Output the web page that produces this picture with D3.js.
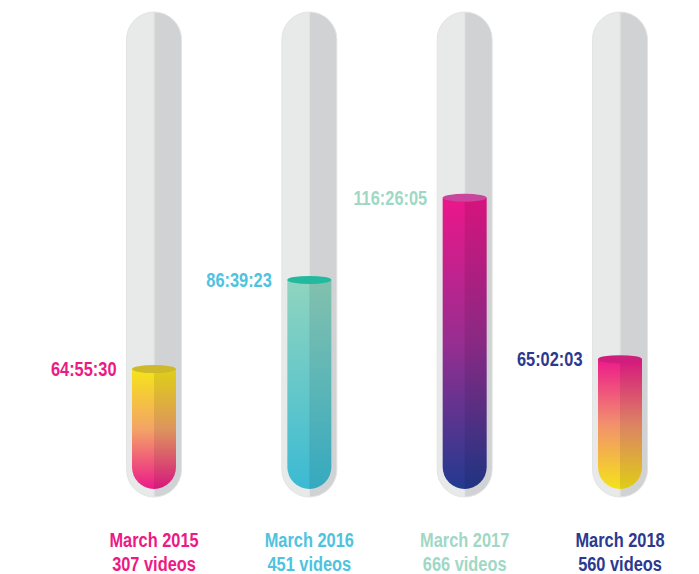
<!DOCTYPE html>
<html>
<head>
<meta charset="utf-8">
<script src="https://cdn.jsdelivr.net/npm/d3@7"></script>
<style>
  body { margin: 0; background: #fff; }
  text { font-family: "Liberation Sans", Arial, sans-serif; font-weight: bold; }
</style>
</head>
<body>
<div id="chart"></div>
<script>
// data
var months = ["March 2015", "March 2016", "March 2017", "March 2018"];
var durations = ["64:55:30", "86:39:23", "116:26:05", "65:02:03"];
var videos = [307, 451, 666, 560];
// how full each tube is drawn (percent of the tube)
var levels = [25.4, 44.3, 61.7, 27.5];

var labelColors = ["#ec1a84", "#4fc3de", "#9fd8c6", "#2b3990"];
var gradStops = [
  ["#f6e41a", "#f3a466", "#ec1a8a"],
  ["#90d4bf", "#66c8c9", "#3bbad3"],
  ["#ec168a", "#962e90", "#223a8f"],
  ["#ec1a8a", "#f2906e", "#f5e21a"]
];
var topColors = ["#cdb92a", "#22b99e", "#c9469c", "#cf1f7c"];

var width = 699, height = 574;
var tubeTop = 12, tubeBottom = 497, tubeW = 55;
var fillBottom = 489, fillW = 44;
var squeeze = 0.78; // condensed look for the labels

var svg = d3.select("#chart").append("svg")
    .attr("width", width)
    .attr("height", height);

var x = d3.scalePoint()
    .domain(months)
    .range([154, 620]);

var y = d3.scaleLinear()
    .domain([0, 100])
    .range([fillBottom, 17]);

var defs = svg.append("defs");
gradStops.forEach(function(stops, i) {
  var g = defs.append("linearGradient")
      .attr("id", "grad" + i)
      .attr("x1", 0).attr("y1", 0).attr("x2", 0).attr("y2", 1);
  stops.forEach(function(c, j) {
    g.append("stop").attr("offset", (j / (stops.length - 1) * 100) + "%").attr("stop-color", c);
  });
});

// capsule half: side = -1 left, 1 right
function tubeHalf(cx, top, bottom, r, side) {
  var xe = cx + side * r;
  var sw = side > 0 ? 1 : 0;
  return "M" + cx + "," + top +
    " A" + r + "," + r + " 0 0 " + sw + " " + xe + "," + (top + r) +
    " L" + xe + "," + (bottom - r) +
    " A" + r + "," + r + " 0 0 " + sw + " " + cx + "," + bottom + " Z";
}
function fillShape(cx, top, bottom, r) {
  return "M" + (cx - r) + "," + top +
    " L" + (cx + r) + "," + top +
    " L" + (cx + r) + "," + (bottom - r) +
    " A" + r + "," + r + " 0 0 1 " + (cx - r) + "," + (bottom - r) + " Z";
}
function fillRight(cx, top, bottom, r) {
  return "M" + cx + "," + top +
    " L" + (cx + r) + "," + top +
    " L" + (cx + r) + "," + (bottom - r) +
    " A" + r + "," + r + " 0 0 1 " + cx + "," + bottom + " Z";
}

var tubes = svg.selectAll(".tube")
    .data(months)
    .enter().append("g")
    .attr("class", "tube");

// glass
tubes.append("path")
    .attr("d", function(d) { return tubeHalf(x(d), tubeTop, tubeBottom, tubeW / 2, -1); })
    .attr("fill", "#e8e9e9");
tubes.append("path")
    .attr("d", function(d) { return tubeHalf(x(d), tubeTop, tubeBottom, tubeW / 2, 1); })
    .attr("fill", "#d1d2d3");
tubes.append("path")
    .attr("d", function(d) { return tubeHalf(x(d), tubeTop, tubeBottom, tubeW / 2, -1) + tubeHalf(x(d), tubeTop, tubeBottom, tubeW / 2, 1); })
    .attr("fill", "none")
    .attr("stroke", "#e3e4e4")
    .attr("stroke-width", 1);

// liquid
tubes.append("path")
    .attr("d", function(d, i) { return fillShape(x(d), y(levels[i]), fillBottom, fillW / 2); })
    .attr("fill", function(d, i) { return "url(#grad" + i + ")"; });
tubes.append("path")
    .attr("d", function(d, i) { return fillRight(x(d), y(levels[i]), fillBottom, fillW / 2); })
    .attr("fill", "#000")
    .attr("opacity", 0.09);
tubes.append("ellipse")
    .attr("cx", function(d) { return x(d); })
    .attr("cy", function(d, i) { return y(levels[i]); })
    .attr("rx", fillW / 2)
    .attr("ry", 4)
    .attr("fill", function(d, i) { return topColors[i]; });

// duration labels
tubes.append("text")
    .attr("transform", function(d, i) {
      return "translate(" + (x(d) - tubeW / 2 - 10) + "," + (y(levels[i]) + 7) + ") scale(" + squeeze + ",1)";
    })
    .attr("text-anchor", "end")
    .attr("font-size", 21)
    .attr("fill", function(d, i) { return labelColors[i]; })
    .text(function(d, i) { return durations[i]; });

// bottom labels
tubes.append("text")
    .attr("transform", function(d) { return "translate(" + x(d) + ",547) scale(" + squeeze + ",1)"; })
    .attr("text-anchor", "middle")
    .attr("font-size", 21)
    .attr("fill", function(d, i) { return labelColors[i]; })
    .text(function(d) { return d; });
tubes.append("text")
    .attr("transform", function(d) { return "translate(" + x(d) + ",571) scale(" + squeeze + ",1)"; })
    .attr("text-anchor", "middle")
    .attr("font-size", 21)
    .attr("fill", function(d, i) { return labelColors[i]; })
    .text(function(d, i) { return videos[i] + " videos"; });
</script>
</body>
</html>
